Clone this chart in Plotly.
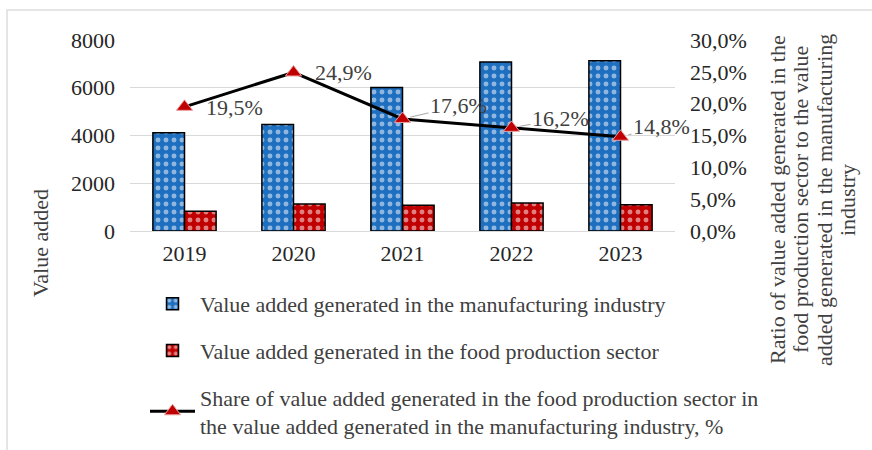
import plotly.graph_objects as go

years = ["2019", "2020", "2021", "2022", "2023"]
manufacturing = [4120, 4460, 6010, 7080, 7130]
food = [830, 1130, 1080, 1170, 1100]
share = [0.195, 0.249, 0.176, 0.162, 0.148]
share_labels = ["19,5%", "24,9%", "17,6%", "16,2%", "14,8%"]

left_ticks = [0, 2000, 4000, 6000, 8000]
right_ticks = [0, 0.05, 0.10, 0.15, 0.20, 0.25, 0.30]

right_title_lines = [
    "Ratio of value added generated in the",
    "food production sector to the value",
    "added generated in the manufacturing",
    "industry",
]

FONT = "Liberation Serif"
FS = 22
BLUE = "#1F6FC0"
RED = "#C00000"
TXT = "#262626"

fig = go.Figure()
fig.add_trace(go.Bar(
    x=years, y=manufacturing,
    name="Value added generated in the manufacturing industry",
    marker=dict(color=BLUE, line=dict(color="black", width=1.5),
                pattern=dict(shape=".", fgcolor="white", bgcolor=BLUE, size=8, solidity=0.3)),
    legendgroup="a",
))
fig.add_trace(go.Bar(
    x=years, y=food,
    name="Value added generated in the food production sector",
    marker=dict(color=RED, line=dict(color="black", width=1.5),
                pattern=dict(shape=".", fgcolor="white", bgcolor=RED, size=8, solidity=0.3)),
    legendgroup="b",
))
fig.add_trace(go.Scatter(
    x=years, y=share, yaxis="y2", mode="lines+markers",
    name="Share of value added generated in the food production sector in<br>the value added generated in the manufacturing industry, %",
    line=dict(color="black", width=3),
    marker=dict(symbol="triangle-up", size=14, color=RED, line=dict(color="#E8A0A0", width=1)),
    legendgroup="c",
))

# label offsets (pixels) and whether a leader line is drawn
label_ax = [50, 50, 56, 49, 41]
label_ay = [1, 0, -13, -9, -10]
leader = [False, False, True, True, True]
for i, (v, t) in enumerate(zip(share, share_labels)):
    fig.add_annotation(x=i, y=v, xref="x", yref="y2", text=t, showarrow=True,
                       ax=label_ax[i], ay=label_ay[i], arrowhead=0, arrowwidth=1,
                       arrowcolor="#A6A6A6" if leader[i] else "rgba(0,0,0,0)", standoff=8,
                       font=dict(family=FONT, size=FS, color="#404040"))

fig.add_annotation(xref="paper", yref="paper", x=-0.165, y=-0.063, text="Value added",
                   textangle=-90, showarrow=False, xanchor="center", yanchor="middle",
                   font=dict(family=FONT, size=FS, color="#404040"))

line_x = [777, 800, 824, 847]
for lx, line in zip(line_x, right_title_lines):
    fig.add_annotation(xref="paper", yref="paper", x=(lx - 130) / 545, y=(231 - 200) / 191,
                       text=line, textangle=-90, showarrow=False, xanchor="center", yanchor="middle",
                       font=dict(family=FONT, size=FS, color="#404040"))

fig.add_shape(type="rect", xref="paper", yref="paper",
              x0=(7 - 130) / 545, x1=1.6, y0=-1.5, y1=(231 - 10) / 191,
              line=dict(color="#DDDDDD", width=1.5), fillcolor="rgba(0,0,0,0)", layer="below")

fig.update_layout(
    width=872, height=450,
    margin=dict(l=130, r=197, t=40, b=219, autoexpand=False),
    paper_bgcolor="white", plot_bgcolor="white",
    separators=", ",
    barmode="group", bargap=0.42, bargroupgap=0,
    font=dict(family=FONT, size=FS, color="#404040"),
    xaxis=dict(type="category", range=[-0.5, 4.5], showgrid=False, showline=True, linecolor="#D9D9D9",
               ticks="", tickfont=dict(size=FS, color=TXT), ticklabelstandoff=3),
    yaxis=dict(range=[0, 8000], tickvals=left_ticks, showgrid=True, gridcolor="#D9D9D9",
               zeroline=False, tickfont=dict(size=FS, color=TXT), ticklabelstandoff=14),
    yaxis2=dict(range=[0, 0.30], tickvals=right_ticks, tickformat=".1%", overlaying="y", side="right",
                showgrid=False, zeroline=False, tickfont=dict(size=FS, color=TXT), ticklabelstandoff=14),
    showlegend=True,
    legend=dict(x=145 / 872, xref="container", y=1 - 283 / 450, yref="container",
                xanchor="left", yanchor="top", tracegroupgap=15, itemwidth=45,
                font=dict(family=FONT, size=FS, color="#404040"), traceorder="grouped",
                bgcolor="rgba(0,0,0,0)"),
)

fig.write_html("out.html", config={"displayModeBar": False},
               post_script="document.body.style.margin='0';")
